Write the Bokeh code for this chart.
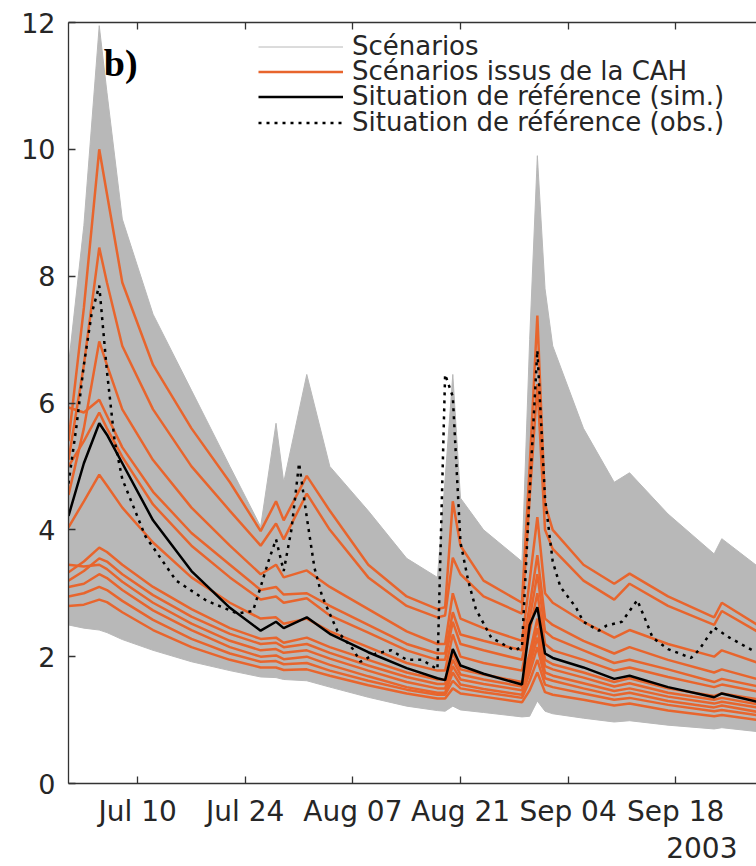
import pandas as pd
from bokeh.plotting import figure
from bokeh.models import (Range1d, FixedTicker, DatetimeTickFormatter, DatetimeAxis,
                          Legend, LegendItem, Label, Title)
from bokeh.embed import file_html
from bokeh.resources import INLINE

# ---------------- data ----------------
dates = ["2003-07-01", "2003-07-03", "2003-07-05", "2003-07-06", "2003-07-08", "2003-07-12",
         "2003-07-17", "2003-07-22", "2003-07-26", "2003-07-28", "2003-07-29", "2003-08-01",
         "2003-08-04", "2003-08-09", "2003-08-14", "2003-08-18", "2003-08-19", "2003-08-20",
         "2003-08-21", "2003-08-24", "2003-08-29", "2003-08-30", "2003-08-31", "2003-09-01",
         "2003-09-02", "2003-09-06", "2003-09-10", "2003-09-12", "2003-09-17", "2003-09-23",
         "2003-09-24", "2003-09-30"]

# envelope of all scenarios (grey band)
scen_upper = [6.6, 8.8, 11.95, 10.9, 8.9, 7.4, 6.2, 5.0, 4.05, 5.68, 4.75, 6.45, 5.0, 4.3, 3.55,
              3.25, 4.8, 6.45, 4.5, 4.0, 3.5, 7.0, 9.9, 7.8, 6.9, 5.6, 4.75, 4.9, 4.25, 3.62,
              3.86, 3.3]
scen_lower = [2.5, 2.45, 2.42, 2.38, 2.27, 2.1, 1.92, 1.78, 1.68, 1.67, 1.64, 1.62, 1.52, 1.36,
              1.22, 1.15, 1.14, 1.22, 1.16, 1.12, 1.05, 1.06, 1.3, 1.14, 1.1, 1.03, 0.97, 0.99,
              0.92, 0.86, 0.88, 0.8]

# scenarios selected by the hierarchical clustering (CAH)
cah_1 = [5.4, 7.5, 10.0, 9.3, 7.9, 6.6, 5.6, 4.75, 3.98, 4.45, 4.15, 4.85, 4.3, 3.45, 2.95, 2.75,
         2.78, 4.45, 3.75, 3.2, 2.85, 5.0, 7.38, 4.4, 4.0, 3.45, 3.15, 3.31, 2.95, 2.62, 2.85, 2.4]
cah_2 = [5.1, 6.6, 8.45, 7.9, 6.9, 5.9, 5.0, 4.3, 3.75, 4.1, 3.85, 4.57, 4.0, 3.25, 2.8, 2.62,
         2.65, 3.56, 3.3, 2.95, 2.68, 4.5, 6.3, 4.0, 3.7, 3.2, 2.9, 3.15, 2.8, 2.5, 2.72, 2.3]
cah_3 = [4.55, 5.6, 6.97, 6.6, 5.9, 5.1, 4.35, 3.75, 3.3, 3.45, 3.25, 3.36, 3.1, 2.75, 2.4, 2.2,
         2.2, 3.0, 2.6, 2.45, 2.25, 3.2, 4.2, 3.0, 2.85, 2.55, 2.3, 2.42, 2.2, 2.0, 2.1, 1.85]
cah_4 = [5.93, 5.85, 6.05, 5.8, 5.3, 4.6, 3.95, 3.45, 3.05, 3.1, 2.98, 3.0, 2.8, 2.5, 2.2, 2.05,
         2.05, 2.7, 2.35, 2.25, 2.1, 2.8, 3.6, 2.6, 2.5, 2.25, 2.05, 2.15, 1.95, 1.75, 1.8, 1.6]
cah_5 = [5.0, 5.4, 5.85, 5.6, 5.15, 4.4, 3.75, 3.25, 2.9, 2.95, 2.85, 2.92, 2.65, 2.38, 2.1, 1.95,
         1.95, 2.55, 2.2, 2.1, 1.95, 2.6, 3.3, 2.4, 2.3, 2.1, 1.9, 1.95, 1.8, 1.6, 1.65, 1.5]
cah_6 = [4.04, 4.45, 4.87, 4.7, 4.35, 3.8, 3.25, 2.85, 2.6, 2.62, 2.52, 2.6, 2.4, 2.15, 1.9, 1.78,
         1.78, 2.35, 2.0, 1.9, 1.78, 2.4, 3.0, 2.2, 2.1, 1.95, 1.78, 1.83, 1.68, 1.52, 1.56, 1.42]
cah_7 = [3.33, 3.5, 3.72, 3.65, 3.45, 3.1, 2.75, 2.45, 2.28, 2.3, 2.22, 2.3, 2.15, 1.95, 1.75, 1.64,
         1.64, 2.05, 1.8, 1.72, 1.6, 2.05, 2.6, 1.95, 1.88, 1.75, 1.6, 1.66, 1.5, 1.38, 1.42, 1.3]
cah_8 = [3.2, 3.35, 3.55, 3.5, 3.3, 2.97, 2.63, 2.36, 2.2, 2.22, 2.15, 2.2, 2.06, 1.86, 1.68, 1.57,
         1.57, 1.95, 1.72, 1.64, 1.53, 1.95, 2.45, 1.85, 1.8, 1.67, 1.53, 1.58, 1.43, 1.32, 1.35, 1.22]
cah_9 = [3.45, 3.42, 3.45, 3.38, 3.18, 2.85, 2.52, 2.25, 2.1, 2.12, 2.06, 2.1, 1.97, 1.78, 1.6, 1.5,
         1.5, 1.85, 1.64, 1.57, 1.47, 1.85, 2.3, 1.75, 1.7, 1.58, 1.46, 1.5, 1.37, 1.26, 1.29, 1.17]
cah_10 = [3.1, 3.15, 3.3, 3.24, 3.05, 2.73, 2.42, 2.15, 2.0, 2.02, 1.96, 2.0, 1.87, 1.69, 1.52, 1.43,
          1.43, 1.75, 1.56, 1.49, 1.4, 1.75, 2.15, 1.66, 1.62, 1.5, 1.39, 1.43, 1.3, 1.2, 1.23, 1.1]
cah_11 = [2.95, 3.0, 3.1, 3.05, 2.88, 2.58, 2.28, 2.05, 1.92, 1.93, 1.88, 1.9, 1.78, 1.62, 1.48, 1.4,
          1.4, 1.62, 1.5, 1.44, 1.35, 1.62, 1.95, 1.56, 1.52, 1.42, 1.32, 1.35, 1.24, 1.14, 1.16, 1.05]
cah_12 = [2.8, 2.82, 2.9, 2.86, 2.7, 2.42, 2.15, 1.95, 1.83, 1.83, 1.79, 1.8, 1.7, 1.55, 1.42, 1.34,
          1.34, 1.5, 1.42, 1.37, 1.28, 1.47, 1.75, 1.44, 1.4, 1.32, 1.23, 1.26, 1.15, 1.06, 1.08, 0.98]

# reference situation, simulated
ref_sim = [4.22, 5.05, 5.68, 5.5, 5.05, 4.15, 3.35, 2.77, 2.41, 2.55, 2.45, 2.62, 2.36, 2.07, 1.82,
           1.66, 1.63, 2.12, 1.86, 1.73, 1.56, 2.5, 2.78, 2.05, 1.98, 1.83, 1.65, 1.7, 1.52, 1.36,
           1.42, 1.25]

# reference situation, observed
obs_dates = ["2003-07-01", "2003-07-02", "2003-07-03", "2003-07-04", "2003-07-05", "2003-07-06",
             "2003-07-07", "2003-07-08", "2003-07-11", "2003-07-15", "2003-07-19", "2003-07-23",
             "2003-07-25", "2003-07-26", "2003-07-27", "2003-07-28", "2003-07-29", "2003-07-30",
             "2003-07-31", "2003-08-01", "2003-08-02", "2003-08-03", "2003-08-05", "2003-08-07",
             "2003-08-08", "2003-08-10", "2003-08-12", "2003-08-14", "2003-08-16", "2003-08-18",
             "2003-08-19", "2003-08-20", "2003-08-21", "2003-08-22", "2003-08-23", "2003-08-25",
             "2003-08-28", "2003-08-29", "2003-08-30", "2003-08-31", "2003-09-01", "2003-09-02",
             "2003-09-03", "2003-09-05", "2003-09-06", "2003-09-08", "2003-09-09", "2003-09-11",
             "2003-09-13", "2003-09-14", "2003-09-15", "2003-09-17", "2003-09-20", "2003-09-21",
             "2003-09-23", "2003-09-25", "2003-09-28", "2003-09-30"]
obs_vals = [4.73, 5.6, 6.6, 7.4, 7.85, 6.5, 5.4, 4.8, 3.9, 3.2, 2.88, 2.68,
            2.72, 3.1, 3.5, 3.85, 3.35, 4.0, 5.05, 4.2, 3.4, 2.95, 2.4, 2.12,
            1.92, 2.05, 2.1, 1.95, 1.95, 1.8, 6.45, 6.1, 3.8, 3.2, 2.75, 2.3,
            2.1, 2.15, 4.6, 6.83, 4.5, 3.5, 3.1, 2.78, 2.55, 2.41, 2.49, 2.55,
            2.89, 2.6, 2.3, 2.12, 1.98, 2.1, 2.46, 2.3, 2.1, 2.05]

tick_dates = ["2003-07-10", "2003-07-24", "2003-08-07", "2003-08-21", "2003-09-04", "2003-09-18"]
y_ticks = [0, 2, 4, 6, 8, 10, 12]
legend_labels = ["Scénarios", "Scénarios issus de la CAH",
                 "Situation de référence (sim.)", "Situation de référence (obs.)"]
panel_tag = "b)"
year_text = "2003"

# ---------------- styling ----------------
GREY = "#b8b8b8"
ORANGE = "#e8652d"
AXC = "#333333"
TXT = "#262626"
FONT = "DejaVu Sans"

x = pd.to_datetime(dates)
xo = pd.to_datetime(obs_dates)
t0 = pd.Timestamp("2003-07-01")
px_per_day = 7.686
frame_w, frame_h = 688, 761
x_end = t0 + pd.Timedelta(days=frame_w / px_per_day)

p = figure(width=756, height=866, x_axis_type="datetime",
           x_range=Range1d(t0, x_end), y_range=Range1d(0, 12),
           output_backend="svg", toolbar_location=None,
           min_border_left=68, min_border_right=0, min_border_top=22, min_border_bottom=83)
p.outline_line_color = None
p.xgrid.visible = False
p.ygrid.visible = False
p.background_fill_color = "white"

p.varea(x=x, y1=scen_lower, y2=scen_upper, fill_color=GREY, fill_alpha=1.0)
r_grey = p.line(x, scen_upper, line_color=GREY, line_width=1)
p.line(x, scen_lower, line_color=GREY, line_width=1)

r_orange = None
for series in [cah_1, cah_2, cah_3, cah_4, cah_5, cah_6, cah_7, cah_8, cah_9, cah_10, cah_11, cah_12]:
    r = p.line(x, series, line_color=ORANGE, line_width=2.5)
    if r_orange is None:
        r_orange = r

r_sim = p.line(x, ref_sim, line_color="black", line_width=2.5)
r_obs = p.line(xo, obs_vals, line_color="black", line_width=2.5, line_dash="3 5")

tick_ms = [pd.Timestamp(d).value // 10**6 for d in tick_dates]
fmt = DatetimeTickFormatter(days="%b %d", months="%b %d", years="%b %d", hours="%b %d",
                            hourmin="%b %d", minutes="%b %d", minsec="%b %d", seconds="%b %d",
                            milliseconds="%b %d", microseconds="%b %d")

xa = p.xaxis[0]
xa.ticker = FixedTicker(ticks=tick_ms)
xa.formatter = fmt
ya = p.yaxis[0]
ya.ticker = FixedTicker(ticks=y_ticks)
for ax in (xa, ya):
    ax.major_tick_in = 7
    ax.major_tick_out = 0
    ax.minor_tick_line_color = None
    ax.axis_line_color = AXC
    ax.axis_line_width = 1.3
    ax.major_tick_line_color = AXC
    ax.major_tick_line_width = 1.3
    ax.major_label_text_font = FONT
    ax.major_label_text_color = TXT
xa.major_label_text_font_size = "28px"
ya.major_label_text_font_size = "27px"
xa.major_label_standoff = 11
ya.major_label_standoff = 13

top = DatetimeAxis(ticker=FixedTicker(ticks=tick_ms), formatter=fmt,
                   major_label_text_font_size="0px", major_label_standoff=0,
                   major_tick_in=7, major_tick_out=0, minor_tick_line_color=None,
                   axis_line_color=AXC, axis_line_width=1.3,
                   major_tick_line_color=AXC, major_tick_line_width=1.3)
p.add_layout(top, "above")

# one single-entry legend per line so that the rows can sit as close as in the original
legend_renderers = [r_grey, r_orange, r_sim, r_obs]
legend_y = [722, 697, 672, 646]
for lab, rend, ly in zip(legend_labels, legend_renderers, legend_y):
    lg = Legend(items=[LegendItem(label=lab, renderers=[rend])],
                location=(190, ly), orientation="vertical",
                label_text_font=FONT, label_text_font_size="26px", label_text_color=TXT,
                glyph_width=85, glyph_height=25, label_height=25,
                padding=0, margin=0, label_standoff=9,
                background_fill_alpha=0, border_line_alpha=0)
    p.add_layout(lg)

tag_x = (t0 + pd.Timedelta(days=4.6)).value // 10**6
p.add_layout(Label(x=tag_x, y=11.7, text=panel_tag, text_font="Liberation Serif",
                   text_font_style="bold", text_font_size="38px", text_baseline="top",
                   text_color="black"))

p.add_layout(Title(text=year_text, align="right", offset=19, standoff=8,
                   text_font=FONT, text_font_size="28px", text_font_style="normal",
                   text_color=TXT), "below")

open("out.html", "w").write(file_html(p, INLINE))
